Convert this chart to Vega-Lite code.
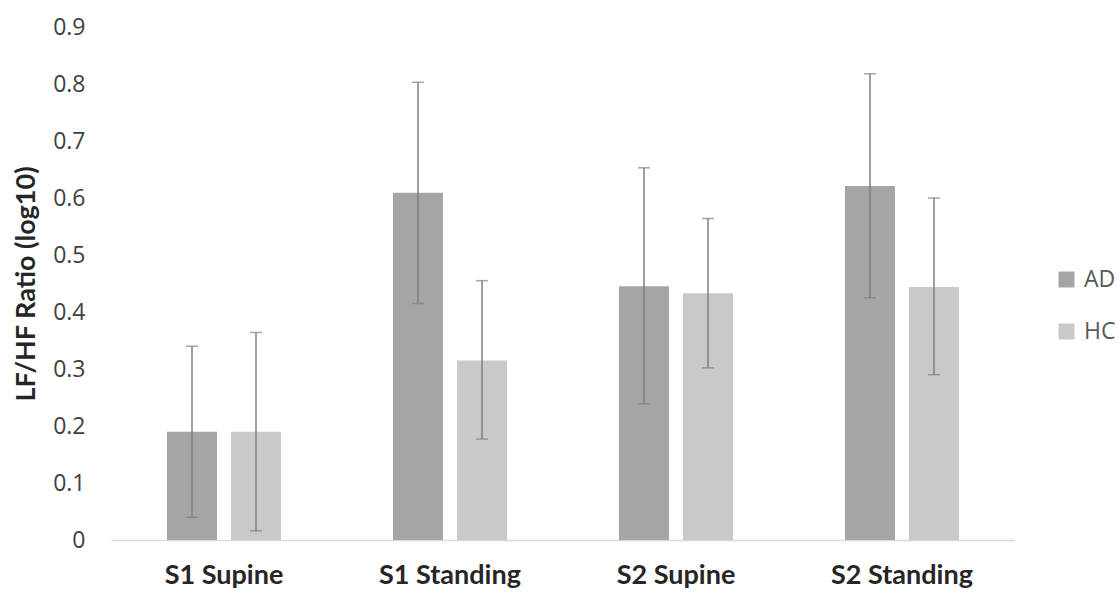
{
  "$schema": "https://vega.github.io/schema/vega-lite/v6.json",
  "width": 904,
  "height": 513,
  "autosize": {"type": "none"},
  "padding": {"left": 111, "top": 27, "right": 104, "bottom": 54},
  "background": "white",
  "config": {
    "view": {"stroke": null},
    "font": "Lato"
  },
  "data": {
    "values": [
      {"condition": "S1 Supine", "group": "AD", "mean": 0.19, "low": 0.04, "high": 0.34},
      {"condition": "S1 Supine", "group": "HC", "mean": 0.19, "low": 0.016, "high": 0.364},
      {"condition": "S1 Standing", "group": "AD", "mean": 0.609, "low": 0.415, "high": 0.803},
      {"condition": "S1 Standing", "group": "HC", "mean": 0.315, "low": 0.177, "high": 0.455},
      {"condition": "S2 Supine", "group": "AD", "mean": 0.445, "low": 0.239, "high": 0.653},
      {"condition": "S2 Supine", "group": "HC", "mean": 0.433, "low": 0.302, "high": 0.564},
      {"condition": "S2 Standing", "group": "AD", "mean": 0.621, "low": 0.425, "high": 0.818},
      {"condition": "S2 Standing", "group": "HC", "mean": 0.444, "low": 0.29, "high": 0.6}
    ]
  },
  "encoding": {
    "x": {
      "field": "condition",
      "type": "nominal",
      "sort": null,
      "scale": {"paddingInner": 0, "paddingOuter": 0},
      "axis": {
        "title": null,
        "labelAngle": 0,
        "labelFont": "Lato",
        "labelFontSize": 27,
        "labelFontWeight": "bold",
        "labelColor": "#262626",
        "labelPadding": 35,
        "labelBaseline": "middle",
        "ticks": false,
        "domainColor": "#d9d9d9",
        "domainWidth": 1.5
      }
    },
    "xOffset": {
      "field": "group",
      "type": "nominal",
      "scale": {"domain": ["AD", "HC"], "paddingInner": 0.219, "paddingOuter": 0.875}
    }
  },
  "layer": [
    {
      "mark": {"type": "bar"},
      "encoding": {
        "y": {
          "field": "mean",
          "type": "quantitative",
          "scale": {"domain": [0, 0.9], "nice": false},
          "axis": {
            "title": "LF/HF Ratio (log10)",
            "titleFont": "Lato",
            "titleFontSize": 27,
            "titleFontWeight": "bold",
            "titleColor": "#262626",
            "titlePadding": 12,
            "values": [0, 0.1, 0.2, 0.3, 0.4, 0.5, 0.6, 0.7, 0.8, 0.9],
            "format": ".1~f",
            "labelFont": "Open Sans",
            "labelFontSize": 23,
            "labelColor": "#404040",
            "labelPadding": 26,
            "domain": false,
            "ticks": false,
            "grid": false
          }
        },
        "color": {
          "field": "group",
          "type": "nominal",
          "scale": {"domain": ["AD", "HC"], "range": ["#a4a5a8", "#c8c9cb"]},
          "legend": {
            "title": null,
            "orient": "none",
            "legendX": 944,
            "legendY": 241,
            "symbolType": "square",
            "symbolSize": 256,
            "symbolStrokeWidth": 0,
            "labelFont": "Open Sans",
            "labelFontSize": 23,
            "labelColor": "#595959",
            "labelOffset": 6,
            "rowPadding": 28
          }
        }
      }
    },
    {
      "mark": {"type": "rule", "color": "#7f7f7f", "strokeWidth": 1.5},
      "encoding": {
        "y": {"field": "low", "type": "quantitative"},
        "y2": {"field": "high"}
      }
    },
    {
      "mark": {"type": "tick", "color": "#7f7f7f", "thickness": 1.5, "size": 12, "orient": "horizontal"},
      "encoding": {
        "y": {"field": "low", "type": "quantitative"}
      }
    },
    {
      "mark": {"type": "tick", "color": "#7f7f7f", "thickness": 1.5, "size": 12, "orient": "horizontal"},
      "encoding": {
        "y": {"field": "high", "type": "quantitative"}
      }
    }
  ]
}
